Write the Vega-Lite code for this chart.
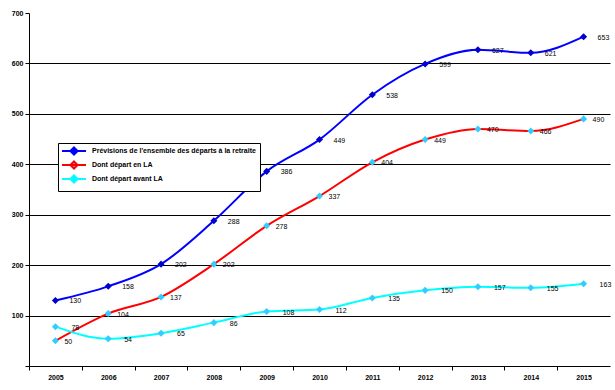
{
  "$schema": "https://vega.github.io/schema/vega-lite/v6.json",
  "width": 581,
  "height": 353,
  "autosize": {"type": "none"},
  "padding": {"left": 29, "top": 13, "right": 5, "bottom": 24},
  "background": "white",
  "config": {"view": {"stroke": null}, "font": "Liberation Sans"},
  "data": {"values": [
    {"year": "2005", "series": "Prévisions de l'ensemble des départs à la retraite", "value": 130},
    {"year": "2006", "series": "Prévisions de l'ensemble des départs à la retraite", "value": 158},
    {"year": "2007", "series": "Prévisions de l'ensemble des départs à la retraite", "value": 202},
    {"year": "2008", "series": "Prévisions de l'ensemble des départs à la retraite", "value": 288},
    {"year": "2009", "series": "Prévisions de l'ensemble des départs à la retraite", "value": 386},
    {"year": "2010", "series": "Prévisions de l'ensemble des départs à la retraite", "value": 449},
    {"year": "2011", "series": "Prévisions de l'ensemble des départs à la retraite", "value": 538},
    {"year": "2012", "series": "Prévisions de l'ensemble des départs à la retraite", "value": 599},
    {"year": "2013", "series": "Prévisions de l'ensemble des départs à la retraite", "value": 627},
    {"year": "2014", "series": "Prévisions de l'ensemble des départs à la retraite", "value": 621},
    {"year": "2015", "series": "Prévisions de l'ensemble des départs à la retraite", "value": 653},
    {"year": "2005", "series": "Dont départ en LA", "value": 50},
    {"year": "2006", "series": "Dont départ en LA", "value": 104},
    {"year": "2007", "series": "Dont départ en LA", "value": 137},
    {"year": "2008", "series": "Dont départ en LA", "value": 202},
    {"year": "2009", "series": "Dont départ en LA", "value": 278},
    {"year": "2010", "series": "Dont départ en LA", "value": 337},
    {"year": "2011", "series": "Dont départ en LA", "value": 404},
    {"year": "2012", "series": "Dont départ en LA", "value": 449},
    {"year": "2013", "series": "Dont départ en LA", "value": 470},
    {"year": "2014", "series": "Dont départ en LA", "value": 466},
    {"year": "2015", "series": "Dont départ en LA", "value": 490},
    {"year": "2005", "series": "Dont départ avant LA", "value": 78},
    {"year": "2006", "series": "Dont départ avant LA", "value": 54},
    {"year": "2007", "series": "Dont départ avant LA", "value": 65},
    {"year": "2008", "series": "Dont départ avant LA", "value": 86},
    {"year": "2009", "series": "Dont départ avant LA", "value": 108},
    {"year": "2010", "series": "Dont départ avant LA", "value": 112},
    {"year": "2011", "series": "Dont départ avant LA", "value": 135},
    {"year": "2012", "series": "Dont départ avant LA", "value": 150},
    {"year": "2013", "series": "Dont départ avant LA", "value": 157},
    {"year": "2014", "series": "Dont départ avant LA", "value": 155},
    {"year": "2015", "series": "Dont départ avant LA", "value": 163}
  ]},
  "encoding": {
    "x": {
      "field": "year", "type": "ordinal",
      "scale": {"type": "point", "padding": 0.5},
      "axis": {
        "title": null, "labelAngle": 0, "labelFont": "Liberation Sans", "labelFontSize": 7,
        "labelFontWeight": "bold", "labelColor": "black", "domainColor": "black",
        "tickColor": "black", "tickSize": 4, "tickOffset": -26.4, "labelOffset": 26.4,
        "labelPadding": 3, "grid": false
      }
    },
    "y": {
      "field": "value", "type": "quantitative",
      "scale": {"domain": [0, 700], "nice": false},
      "axis": {
        "title": null, "values": [0, 100, 200, 300, 400, 500, 600, 700],
        "labelExpr": "datum.value == 0 ? '' : datum.label",
        "grid": true,
        "gridColor": {"condition": {"test": "datum.value == 700 || datum.value == 0", "value": "transparent"}, "value": "black"},
        "gridWidth": 1, "domainColor": "black", "tickColor": "black", "tickSize": 4,
        "labelPadding": 2, "labelFont": "Liberation Sans", "labelFontSize": 7,
        "labelFontWeight": "bold", "labelColor": "black"
      }
    }
  },
  "layer": [
    {
      "mark": {"type": "line", "interpolate": "monotone", "strokeWidth": 2},
      "encoding": {
        "stroke": {
          "field": "series", "type": "nominal",
          "scale": {
            "domain": ["Prévisions de l'ensemble des départs à la retraite", "Dont départ en LA", "Dont départ avant LA"],
            "range": ["#0000FF", "#FF0000", "#00FFFF"]
          },
          "legend": {
            "orient": "none", "legendX": 29, "legendY": 130, "title": null, "direction": "vertical",
            "strokeColor": "black", "fillColor": "white", "padding": 4,
            "labelFont": "Liberation Sans", "labelFontSize": 7, "labelFontWeight": "bold", "labelColor": "black",
            "symbolType": "M-4,0H4M0,-1.2L1.2,0L0,1.2L-1.2,0Z", "symbolSize": 36, "symbolStrokeWidth": 2,
            "symbolOffset": 8, "labelOffset": 14, "rowPadding": -2, "labelLimit": 400
          }
        }
      }
    },
    {
      "mark": {"type": "point", "shape": "diamond", "filled": true, "size": 50, "opacity": 1},
      "encoding": {
        "fill": {
          "field": "series", "type": "nominal",
          "scale": {
            "domain": ["Prévisions de l'ensemble des départs à la retraite", "Dont départ en LA", "Dont départ avant LA"],
            "range": ["#0000CC", "#33CCFF", "#33CCFF"]
          },
          "legend": {
            "orient": "none", "legendX": 29, "legendY": 130, "title": null, "direction": "vertical",
            "strokeColor": "black", "fillColor": "white", "padding": 4,
            "labelFont": "Liberation Sans", "labelFontSize": 7, "labelFontWeight": "bold", "labelColor": "black",
            "symbolType": "M-4,0H4M0,-1.2L1.2,0L0,1.2L-1.2,0Z", "symbolSize": 36, "symbolStrokeWidth": 2,
            "symbolOffset": 8, "labelOffset": 14, "rowPadding": -2, "labelLimit": 400
          }
        }
      }
    },
    {
      "transform": [{"filter": "datum.series == \"Prévisions de l'ensemble des départs à la retraite\""}],
      "mark": {"type": "text", "align": "left", "baseline": "middle", "dx": 14, "dy": 1, "fontSize": 7, "font": "Liberation Sans", "color": "black"},
      "encoding": {"text": {"field": "value", "type": "quantitative"}}
    },
    {
      "transform": [{"filter": "datum.series == 'Dont départ en LA'"}],
      "mark": {"type": "text", "align": "left", "baseline": "middle", "dx": 9, "dy": 1, "fontSize": 7, "font": "Liberation Sans", "color": "black"},
      "encoding": {"text": {"field": "value", "type": "quantitative"}}
    },
    {
      "transform": [{"filter": "datum.series == 'Dont départ avant LA'"}],
      "mark": {"type": "text", "align": "left", "baseline": "middle", "dx": 16, "dy": 1, "fontSize": 7, "font": "Liberation Sans", "color": "black"},
      "encoding": {"text": {"field": "value", "type": "quantitative"}}
    }
  ]
}
